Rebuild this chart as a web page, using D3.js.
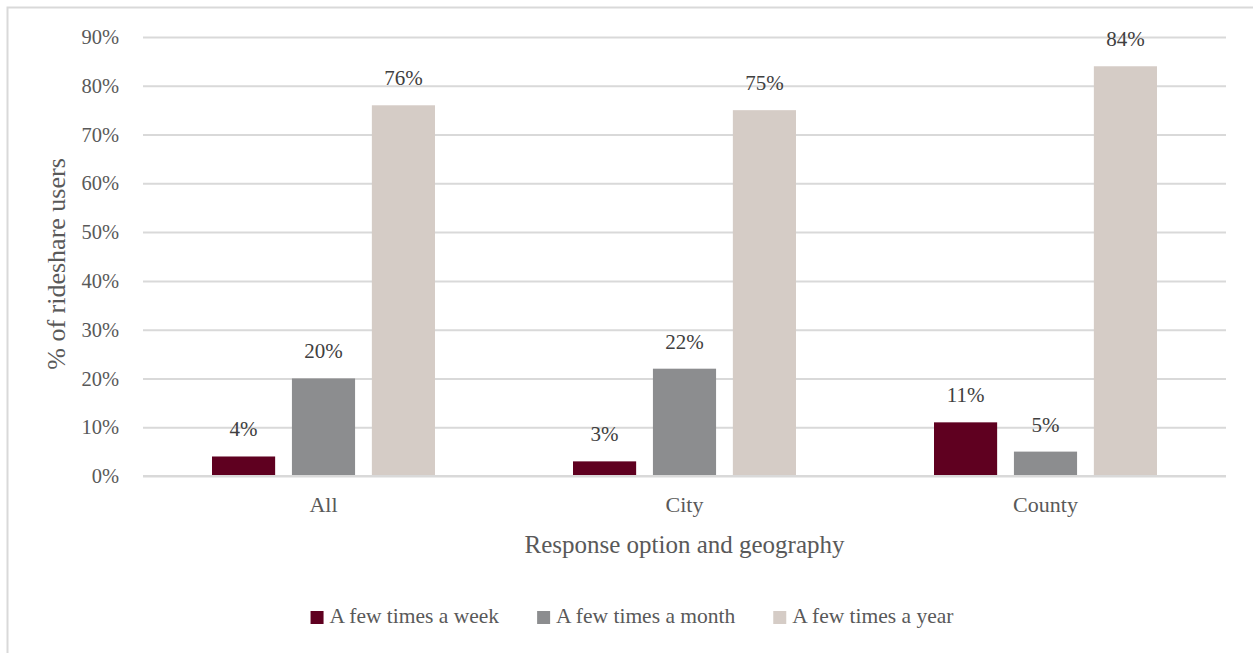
<!DOCTYPE html>
<html>
<head>
<meta charset="utf-8">
<script src="https://cdn.jsdelivr.net/npm/d3@7"></script>
<style>
  body { margin: 0; background: #fff; }
  svg { display: block; font-family: "Liberation Serif", "DejaVu Serif", serif; }
</style>
</head>
<body>
<svg width="1253" height="653"></svg>
<script>
// data
var groups = ["All", "City", "County"];
var seriesNames = ["A few times a week", "A few times a month", "A few times a year"];
var weekly = [4, 3, 11];
var monthly = [20, 22, 5];
var yearly = [76, 75, 84];
var yTicks = [0, 10, 20, 30, 40, 50, 60, 70, 80, 90];
var colors = ["#5f0020", "#8c8d8f", "#d5ccc6"];

var seriesValues = [weekly, monthly, yearly];
var rows = groups.map(function (g, i) {
  return { group: g, values: seriesValues.map(function (s, k) { return { key: k, value: s[i] }; }) };
});

var svg = d3.select("svg"),
    margin = {left: 143, right: 27, top: 37, bottom: 177},
    width = +svg.attr("width"),
    height = +svg.attr("height");

var textColor = "#595959";

// outer frame (right/bottom edges fall outside the picture)
svg.append("rect")
    .attr("x", 7.5).attr("y", 7.5)
    .attr("width", width + 20).attr("height", height + 20)
    .attr("fill", "none")
    .attr("stroke", "#d9d9d9")
    .attr("stroke-width", 2);

var x0 = d3.scaleBand()
    .domain(groups)
    .range([margin.left, width - margin.right])
    .paddingInner(0).paddingOuter(0);

var groupW = 223;
var x1 = d3.scaleBand()
    .domain([0, 1, 2])
    .range([0, groupW])
    .paddingInner(0.21).paddingOuter(0);

var y = d3.scaleLinear()
    .domain([0, 90])
    .range([height - margin.bottom, margin.top]);

// gridlines + tick labels
var yAxis = svg.append("g")
    .attr("transform", "translate(" + margin.left + ",0)")
    .call(d3.axisLeft(y).tickValues(yTicks)
        .tickSize(-(width - margin.left - margin.right))
        .tickPadding(24)
        .tickFormat(function (d) { return d + "%"; }));
yAxis.select(".domain").remove();
yAxis.selectAll(".tick line").attr("stroke", "#d9d9d9").attr("stroke-width", 2);
yAxis.selectAll(".tick text")
    .attr("fill", textColor)
    .style("font-size", "20.5px")
    .style("font-family", "Liberation Serif, serif");

// bars
var g = svg.append("g").selectAll("g")
    .data(rows)
    .enter().append("g")
    .attr("transform", function (d) {
      return "translate(" + (x0(d.group) + x0.bandwidth() / 2 - groupW / 2) + ",0)";
    });

g.selectAll("rect")
    .data(function (d) { return d.values; })
    .enter().append("rect")
    .attr("x", function (d) { return x1(d.key); })
    .attr("width", x1.bandwidth())
    .attr("y", function (d) { return y(d.value); })
    .attr("height", function (d) { return y(0) - y(d.value); })
    .attr("fill", function (d) { return colors[d.key]; });

g.selectAll("text")
    .data(function (d) { return d.values; })
    .enter().append("text")
    .attr("x", function (d) { return x1(d.key) + x1.bandwidth() / 2; })
    .attr("y", function (d) { return y(d.value) - 20; })
    .attr("text-anchor", "middle")
    .attr("fill", "#404040")
    .style("font-size", "21px")
    .text(function (d) { return d.value + "%"; });

// x-axis baseline + category labels
svg.append("line")
    .attr("x1", margin.left).attr("x2", width - margin.right)
    .attr("y1", y(0)).attr("y2", y(0))
    .attr("stroke", "#d9d9d9").attr("stroke-width", 2);

svg.append("g").selectAll("text")
    .data(groups)
    .enter().append("text")
    .attr("x", function (d) { return x0(d) + x0.bandwidth() / 2; })
    .attr("y", 512)
    .attr("text-anchor", "middle")
    .attr("fill", textColor)
    .style("font-size", "22px")
    .text(function (d) { return d; });

// axis titles
svg.append("text")
    .attr("x", (margin.left + width - margin.right) / 2)
    .attr("y", 553)
    .attr("text-anchor", "middle")
    .attr("fill", textColor)
    .style("font-size", "25px")
    .text("Response option and geography");

svg.append("text")
    .attr("transform", "translate(65,264) rotate(-90)")
    .attr("text-anchor", "middle")
    .attr("fill", textColor)
    .style("font-size", "26px")
    .text("% of rideshare users");

// legend
var legend = svg.append("g");
var items = legend.selectAll("g")
    .data(seriesNames)
    .enter().append("g");
items.append("rect")
    .attr("width", 13).attr("height", 13)
    .attr("y", 611)
    .attr("fill", function (d, i) { return colors[i]; });
items.append("text")
    .attr("x", 19)
    .attr("y", 623)
    .attr("fill", textColor)
    .style("font-size", "21.5px")
    .text(function (d) { return d; });

var xpos = 0, offs = [];
items.each(function () {
  offs.push(xpos);
  xpos += 19 + d3.select(this).select("text").node().getComputedTextLength() + 38;
});
var total = xpos - 38;
var start = 632 - total / 2;
items.attr("transform", function (d, i) { return "translate(" + (start + offs[i]) + ",0)"; });
</script>
</body>
</html>
